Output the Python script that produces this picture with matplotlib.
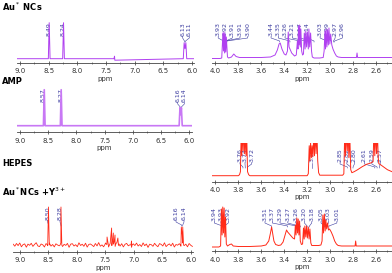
import numpy as np
import matplotlib
matplotlib.use('Agg')
import matplotlib.pyplot as plt
from matplotlib.ticker import MultipleLocator, FormatStrFormatter

# ---- spectra, intensity in arbitrary units above baseline ----
au_left_ppm = [9.05, 8.505, 8.49, 8.475, 8.255, 8.24, 8.225, 7.36, 7.35, 7.345,
               6.15, 6.135, 6.12, 6.105, 6.09, 5.96]
au_left_int = [0, 0, 36, 0, 0, 36, 0, 0, 2.5, -1.5, 0, 16, 10, 16, 0, 0]

amp_ppm = [9.05, 8.585, 8.57, 8.555, 8.285, 8.27, 8.255, 6.18, 6.165, 6.15, 6.14, 6.125, 5.95]
amp_int = [0, 0, 36, 0, 0, 36, 0, 0, 18, 11, 18, 0, 0]

y3_left_noise = [0.8, -1.2, 1.5, -0.6, 2.0, -1.8, 0.4, 1.1, -2.2, 0.9, -0.3, 1.7, -1.4, 0.6,
                 2.3, -0.9, -1.6, 1.0, 0.2, -2.0, 1.4, -0.7, 1.9, -1.1, 0.5, -1.9, 1.2, 0.0,
                 -0.8, 2.1, -1.5, 0.7, -0.4, 1.6, -2.3, 0.9, 1.3, -1.0, 0.3, -1.7, 2.2, -0.5,
                 0.8, -1.3, 1.8, -2.1, 0.6, 1.0, -0.2, -1.6, 1.5, -0.9, 2.4, -1.2, 0.1, -1.8,
                 1.1, 0.4, -2.0, 1.7, -0.6, 0.9, -1.4, 2.0, -0.3, -1.1, 1.3, -1.9, 0.7, 1.6,
                 -0.8, 0.2, -2.2, 1.2, -0.5, 1.9, -1.0, 0.5, -1.5, 2.1, -0.7, 1.0, -2.4, 0.8,
                 0.3, -1.3, 1.7, -0.4, -1.7, 1.4, 0.6, -1.0, 2.2, -1.6, 0.1, 1.1, -0.9, 1.8,
                 -2.0, 0.5, -0.2, 1.3, -1.2, 2.0, -0.6, 0.9, -1.8, 1.5, -0.3, -1.4]
y3_left_peak_ppm = [8.515, 8.50, 8.485, 8.295, 8.28, 8.265, 7.50, 7.47, 7.45, 7.41, 7.39,
                    7.375, 7.36, 7.345, 7.33, 7.31, 7.28, 7.26, 7.05, 7.04, 7.03,
                    6.18, 6.165, 6.15, 6.14, 6.125]
y3_left_peak_int = [0, 38, 0, 0, 38, 0, 2, 8, 1, 5, 17, 4, 12, 3, 10, 2, 7, 1, 0, 4, 0,
                    0, 18, 10, 18, 0]

au_right_ppm = [4.03, 3.96, 3.945, 3.935, 3.93, 3.925, 3.92, 3.915, 3.91, 3.905, 3.895,
                3.885, 3.86, 3.84, 3.82, 3.79, 3.70, 3.60, 3.52, 3.48, 3.46, 3.445, 3.435,
                3.42, 3.40, 3.385, 3.372, 3.365, 3.358, 3.35, 3.335, 3.31, 3.295, 3.285,
                3.28, 3.275, 3.27, 3.265, 3.26, 3.255, 3.248, 3.24, 3.232, 3.225, 3.218,
                3.212, 3.205, 3.198, 3.19, 3.185, 3.178, 3.17, 3.162, 3.155, 3.14, 3.09,
                3.06, 3.052, 3.045, 3.04, 3.035, 3.028, 3.022, 3.015, 3.01, 3.002, 2.995,
                2.985, 2.975, 2.96, 2.945, 2.93, 2.90, 2.77, 2.765, 2.76, 2.60, 2.46]
au_right_int = [0.5, 0.5, 1, 26, 8, 27, 6, 25, 7, 22, 2,
                1, 2, 5, 2.5, 1.5, 1.5, 1.5, 2, 4, 9, 15, 16,
                10, 5, 4, 8, 27, 12, 10, 6, 3, 4, 18,
                10, 33, 14, 34, 12, 30, 8, 4, 5, 26, 10,
                28, 12, 27, 10, 30, 12, 26, 8, 2, 1, 1,
                1.5, 8, 28, 10, 30, 12, 29, 14, 31, 15, 25,
                14, 10, 6, 3, 2, 1.5, 1.5, 6, 1.5, 1.5, 1.5]

hepes_ppm = [4.03, 3.80, 3.79, 3.782, 3.775, 3.77, 3.765, 3.758, 3.752, 3.745, 3.74,
             3.733, 3.728, 3.72, 3.71, 3.70, 3.20, 3.19, 3.182, 3.176, 3.17, 3.163,
             3.157, 3.15, 3.143, 3.136, 3.13, 3.122, 3.115, 3.108, 3.10, 3.09, 2.89,
             2.88, 2.872, 2.865, 2.858, 2.85, 2.843, 2.836, 2.828, 2.82, 2.81, 2.79,
             2.76, 2.72, 2.68, 2.65, 2.625, 2.618, 2.61, 2.603, 2.595, 2.588, 2.58,
             2.575, 2.56, 2.53, 2.50, 2.46]
hepes_int = [0, 0, 1, 4, 45, 20, 50, 25, 50, 22, 50,
             20, 45, 4, 1, 0, 0, 2, 30, 15, 33, 18,
             30, 19, 40, 20, 45, 22, 45, 15, 3, 0.5, 0.5,
             2, 45, 20, 45, 25, 45, 18, 40, 6, 3, 4,
             6, 9, 11.5, 12.5, 14, 45, 20, 45, 22, 45, 18,
             12, 11, 8.5, 6, 4]

y3_right_ppm = [4.03, 3.97, 3.955, 3.948, 3.942, 3.936, 3.93, 3.924, 3.918, 3.912, 3.905,
                3.895, 3.875, 3.86, 3.845, 3.80, 3.70, 3.60, 3.56, 3.535, 3.52, 3.51, 3.50,
                3.49, 3.475, 3.45, 3.43, 3.41, 3.395, 3.38, 3.37, 3.355, 3.34, 3.325, 3.31,
                3.303, 3.297, 3.29, 3.284, 3.278, 3.272, 3.266, 3.26, 3.25, 3.24, 3.232,
                3.226, 3.22, 3.212, 3.205, 3.198, 3.19, 3.183, 3.176, 3.168, 3.16, 3.10,
                3.08, 3.07, 3.063, 3.057, 3.05, 3.043, 3.037, 3.03, 3.022, 3.014, 3.005,
                2.99, 2.975, 2.96, 2.945, 2.93, 2.90, 2.79, 2.782, 2.777, 2.772, 2.70, 2.46]
y3_right_int = [0, 0, 1, 38, 12, 40, 14, 39, 10, 30, 3,
                1, 2.5, 3, 1, 0.5, 0.5, 1, 2, 6, 14, 20, 13,
                6, 2.5, 1.5, 2, 5, 11, 17, 15, 13, 11, 9, 8,
                22, 12, 29, 14, 28, 12, 26, 6, 2.5, 3, 19,
                8, 21, 10, 21, 9, 20, 8, 18, 4, 1.5, 1.5,
                2, 6, 32, 14, 33, 16, 27, 18, 24, 17, 18,
                15, 11, 6, 3, 1.5, 1, 1, 1, 6, 1, 1, 1]

# ---- peak labels: text and where the label sits (ppm) ----
au_left_labels = ['8.49', '8.24', '6.13', '6.11']
au_left_label_x = [8.485, 8.244, 6.161, 6.045]
amp_labels = ['8.57', '8.27', '6.16', '6.14']
amp_label_x = [8.587, 8.273, 6.205, 6.088]
y3_left_labels = ['8.50', '8.28', '6.16', '6.14']
y3_left_label_x = [8.513, 8.297, 6.258, 6.118]
au_right_labels = ['3.93', '3.92', '3.91', '3.91', '3.90', '3.44', '3.35', '3.26', '3.21',
                   '3.17', '3.14', '3.03', '2.99', '2.97', '2.96']
au_right_label_x = [3.976, 3.917, 3.853, 3.786, 3.719, 3.515, 3.452, 3.393, 3.329, 3.262,
                    3.201, 3.087, 3.024, 2.956, 2.893]
hepes_labels = ['3.76', '3.74', '3.72', '3.16', '2.85', '2.82', '2.80', '2.61', '2.59', '2.57']
hepes_label_x = [3.786, 3.742, 3.684, 3.160, 2.913, 2.854, 2.788, 2.700, 2.636, 2.563]
y3_right_labels = ['3.94', '3.93', '3.92', '3.51', '3.37', '3.29', '3.27', '3.26', '3.20',
                   '3.18', '3.05', '3.03', '3.01']
y3_right_label_x = [4.010, 3.952, 3.888, 3.568, 3.504, 3.437, 3.369, 3.300, 3.224, 3.160,
                    3.079, 3.015, 2.941]

PURPLE = '#b040f0'
VIOLET = '#c878f5'
RED = '#ff2a18'
LABEL_C = '#3c3ca0'
W, H = 392, 273

fig = plt.figure(figsize=(W / 100, H / 100), dpi=100)


def panel(x0, x1, top, axis_y, base_y, xlim, ppm, inten, color, lw,
          labels, label_x, label_h, major, minor):
    ax = fig.add_axes([x0 / W, 1 - axis_y / H, (x1 - x0) / W, (axis_y - top) / H])
    ax.patch.set_alpha(0)
    ax.plot(ppm, inten, color=color, lw=lw, zorder=3)
    for txt, lx in zip(labels, label_x):
        pk = float(txt)
        ax.text(lx, label_h, txt, rotation=90, ha='center', va='bottom',
                fontsize=4.5, color=LABEL_C, zorder=2, clip_on=False)
        ax.plot([lx, lx, pk, pk], [label_h - 0.5, label_h - 2, label_h - 5, label_h - 6],
                color=LABEL_C, lw=0.4, zorder=2, clip_on=False)
    ax.set_xlim(xlim)
    ax.set_ylim(-(axis_y - base_y), base_y - top)
    for s in ['left', 'right', 'top']:
        ax.spines[s].set_visible(False)
    ax.spines['bottom'].set_linewidth(0.6)
    ax.spines['bottom'].set_color('#444444')
    ax.set_yticks([])
    ax.xaxis.set_major_locator(MultipleLocator(major))
    ax.xaxis.set_minor_locator(MultipleLocator(minor))
    ax.xaxis.set_major_formatter(FormatStrFormatter('%.1f'))
    ax.tick_params(axis='x', which='major', direction='inout', length=3, width=0.5,
                   pad=2.5, labelsize=5, colors='#333333')
    ax.tick_params(axis='x', which='minor', direction='inout', length=2, width=0.4,
                   colors='#333333')
    ax.set_xlabel('ppm', fontsize=5, labelpad=1, color='#333333')
    return ax


# left column
panel(17, 194, 18, 62.7, 58.7, (9.052, 5.963), au_left_ppm, au_left_int, PURPLE, 0.7,
      au_left_labels, au_left_label_x, 22.7, 0.5, 0.25)
panel(17, 192, 86, 132.3, 125.7, (9.053, 5.952), amp_ppm, amp_int, VIOLET, 1.2,
      amp_labels, amp_label_x, 23.7, 0.5, 0.25)

noise_ppm = np.linspace(9.12, 5.97, len(y3_left_noise))
all_ppm = np.concatenate([noise_ppm, y3_left_peak_ppm])
all_int = np.concatenate([y3_left_noise, y3_left_peak_int])
order = np.argsort(-all_ppm)
panel(13, 192.7, 203, 251.7, 245, (9.123, 5.965), all_ppm[order], all_int[order], RED, 0.6,
      y3_left_labels, y3_left_label_x, 25, 0.5, 0.25)

# right column
panel(212, 392, 18, 62.7, 59, (4.03, 2.46), au_right_ppm, au_right_int, PURPLE, 0.7,
      au_right_labels, au_right_label_x, 23, 0.2, 0.1)
panel(212, 392, 143, 181.5, 175.7, (4.03, 2.46), hepes_ppm, hepes_int, RED, 0.7,
      hepes_labels, hepes_label_x, 13.7, 0.2, 0.1)
panel(212, 392, 203, 251, 247, (4.03, 2.46), y3_right_ppm, y3_right_int, RED, 0.7,
      y3_right_labels, y3_right_label_x, 26, 0.2, 0.1)

# sample names
fig.text(2 / W, 1 - 7 / H, 'Au$^*$ NCs', fontsize=6, fontweight='bold', va='center')
fig.text(2 / W, 1 - 81 / H, 'AMP', fontsize=6, fontweight='bold', va='center')
fig.text(2 / W, 1 - 164 / H, 'HEPES', fontsize=6, fontweight='bold', va='center')
fig.text(2 / W, 1 - 192 / H, 'Au$^*$NCs +Y$^{3+}$', fontsize=6, fontweight='bold', va='center')

fig.savefig('out.png', dpi=100)
